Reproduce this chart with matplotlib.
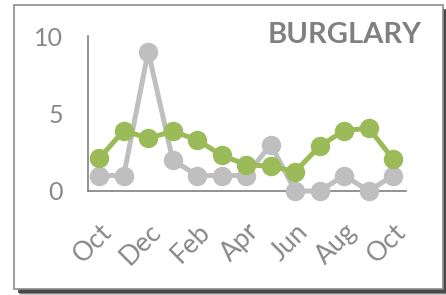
import matplotlib.pyplot as plt
from matplotlib.patches import Rectangle
import numpy as np

months = ['Oct', 'Nov', 'Dec', 'Jan', 'Feb', 'Mar', 'Apr',
          'May', 'Jun', 'Jul', 'Aug', 'Sep', 'Oct']
burglary = [1, 1, 9, 2, 1, 1, 1, 3, 0, 0, 1, 0, 1]
average = [2.1, 3.9, 3.4, 3.85, 3.3, 2.3, 1.7, 1.6, 1.25, 2.9, 3.9, 4.05, 2.05]
yticks = [0, 5, 10]

GREEN = '#9bbb59'
GRAY = '#bfbfbf'
TXT = '#808080'

plt.rcParams['font.family'] = ['Lato', 'DejaVu Sans']

fig = plt.figure(figsize=(4.46, 2.95), dpi=100)
W, H = 446.0, 295.0

# shadow + card
for off, a in [(6, 0.25), (5, 0.45), (4, 0.75)]:
    fig.patches.append(Rectangle(((14 + off) / W, (295 - 289 - off) / H),
                                 429 / W, 284 / H, transform=fig.transFigure,
                                 facecolor='#333333', edgecolor='none', alpha=a, zorder=0))
fig.patches.append(Rectangle((14 / W, (295 - 289) / H), 429 / W, 284 / H,
                             transform=fig.transFigure, facecolor='white',
                             edgecolor='#8c8c8c', linewidth=1.2, zorder=1))

ax = fig.add_axes([87.7 / W, (295 - 191) / H, 318.3 / W, 155 / H])
ax.set_zorder(2)
ax.patch.set_alpha(0)

x = np.arange(len(months))
ax.plot(x, burglary, color=GRAY, lw=3.6, marker='o', ms=13, solid_joinstyle='round',
        clip_on=False, zorder=3)
ax.plot(x, average, color=GREEN, lw=3.6, marker='o', ms=13, solid_joinstyle='round',
        clip_on=False, zorder=4)

ax.set_xlim(-0.47, 12.52)
ax.set_ylim(0, 10)
ax.set_yticks(yticks)
ax.set_yticklabels([str(v) for v in yticks])
ax.set_xticks(x[::2])
ax.set_xticklabels(months[::2], rotation=45, ha='right', va='top',
                   rotation_mode='anchor')

for s in ['top', 'right']:
    ax.spines[s].set_visible(False)
for s in ['left', 'bottom']:
    ax.spines[s].set_color(TXT)
    ax.spines[s].set_linewidth(1.2)
ax.tick_params(axis='both', length=0, colors='#888888', labelsize=18)
ax.tick_params(axis='x', labelsize=19, pad=20)
ax.tick_params(axis='y', pad=18)

fig.text(422 / W, (295 - 35) / H, 'BURGLARY', ha='right', va='center',
         fontsize=21, fontweight='bold', color=TXT, zorder=5)

fig.savefig('out.png', dpi=100)
